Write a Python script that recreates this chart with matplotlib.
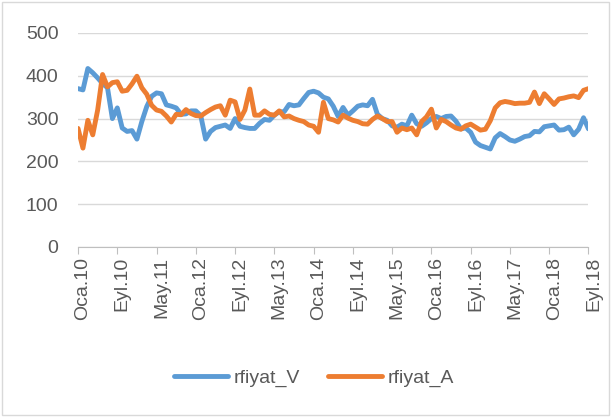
import matplotlib.pyplot as plt
import matplotlib.transforms as mtransforms
import numpy as np

# monthly series, Oca.10 .. Eyl.18 (105 months)
rfiyat_V = [370, 367, 417, 407, 395, 382, 372, 300, 325, 278,
            270, 272, 252, 293, 328, 352, 360, 358, 332, 329,
            325, 310, 311, 318, 318, 307, 252, 270, 279, 282,
            285, 277, 300, 282, 279, 277, 277, 289, 298, 296,
            308, 316, 316, 333, 330, 332, 347, 361, 364, 360,
            350, 346, 329, 305, 326, 308, 318, 329, 332, 330,
            345, 310, 300, 296, 283, 280, 287, 283, 308, 288,
            282, 290, 300, 305, 300, 305, 306, 294, 276, 278,
            268, 245, 237, 233, 229, 255, 265, 258, 250, 247,
            252, 258, 260, 270, 269, 281, 283, 285, 273, 274,
            280, 262, 275, 302, 276]
rfiyat_A = [277, 231, 296, 262, 320, 403, 374, 384, 386, 364,
            366, 381, 399, 372, 357, 331, 320, 317, 306, 292,
            310, 309, 321, 312, 307, 306, 314, 321, 327, 330,
            308, 343, 339, 298, 320, 369, 308, 308, 318, 310,
            308, 318, 304, 306, 300, 296, 293, 285, 282, 268,
            338, 300, 297, 292, 308, 301, 296, 293, 288, 287,
            298, 306, 300, 293, 293, 268, 278, 274, 278, 262,
            293, 304, 322, 278, 298, 293, 285, 278, 275, 283,
            287, 280, 273, 275, 295, 325, 337, 340, 338, 335,
            336, 336, 338, 362, 335, 358, 346, 333, 346, 348,
            351, 353, 349, 366, 370]
tick_labels = ["Oca.10", "Eyl.10", "May.11", "Oca.12", "Eyl.12", "May.13", "Oca.14",
               "Eyl.14", "May.15", "Oca.16", "Eyl.16", "May.17", "Oca.18", "Eyl.18"]

plt.rcParams['font.family'] = ['Liberation Sans', 'DejaVu Sans']
txt = '#595959'

fig = plt.figure(figsize=(6.12, 4.17), dpi=100)
ax = fig.add_axes([0.1275, 0.4077, 0.834, 0.5132])

x = np.arange(len(rfiyat_V))
ax.plot(x, rfiyat_V, color='#5B9BD5', lw=3.5, label='rfiyat_V', solid_capstyle='round', solid_joinstyle='round')
ax.plot(x, rfiyat_A, color='#ED7D31', lw=3.5, label='rfiyat_A', solid_capstyle='round', solid_joinstyle='round')

ax.set_xlim(0, len(x) - 1)
ax.set_ylim(0, 500)
ax.set_yticks(range(0, 501, 100))
ax.set_xticks(np.arange(0, len(x), 8))
ax.set_xticklabels(tick_labels, rotation=90)
ax.grid(axis='y', color='#D9D9D9', lw=1)
ax.set_axisbelow(True)
for s in ['top', 'right', 'left']:
    ax.spines[s].set_visible(False)
ax.spines['bottom'].set_color('#BFBFBF')
ax.tick_params(axis='y', length=0, labelsize=14, labelcolor=txt, pad=14)
ax.tick_params(axis='x', length=5, color='#BFBFBF', labelsize=14, labelcolor=txt, pad=2)

# excel draws the rotated labels a little right of the tick
shift = mtransforms.ScaledTranslation(5 / 100, 0, fig.dpi_scale_trans)
for lab in ax.get_xticklabels():
    lab.set_transform(lab.get_transform() + shift)

fig.legend(loc='center', bbox_to_anchor=(0.513, 0.094), ncol=2, frameon=False,
           fontsize=14, labelcolor=txt, handlelength=2.8, handletextpad=0.3, columnspacing=1.4)

fig.patches.append(plt.Rectangle((0.003, 0.005), 0.992, 0.99, transform=fig.transFigure,
                                 fill=False, edgecolor='#D9D9D9', lw=1))
fig.savefig('out.png', dpi=100)
